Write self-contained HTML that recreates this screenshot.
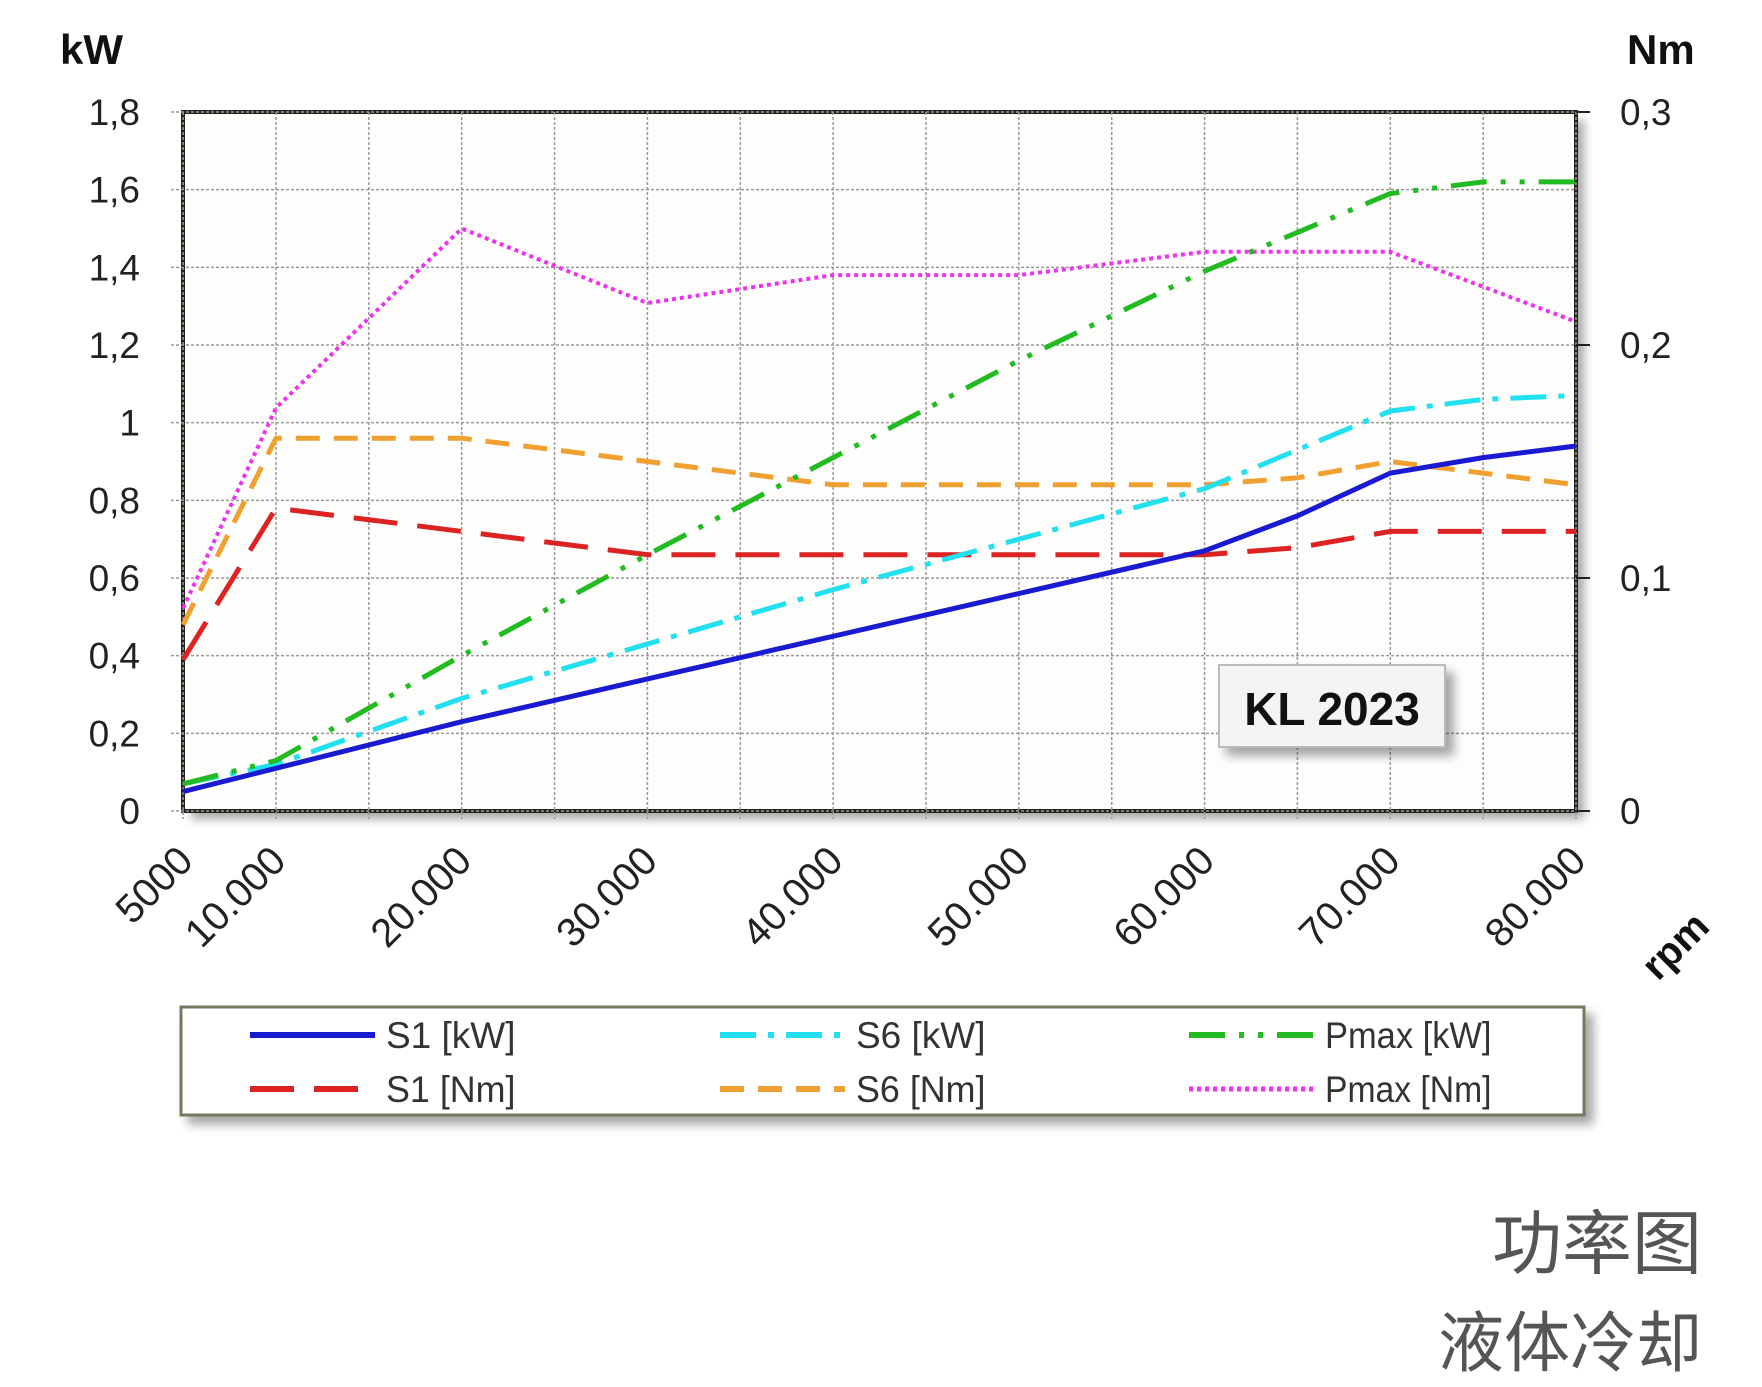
<!DOCTYPE html>
<html><head><meta charset="utf-8"><style>
body{margin:0;background:#fff;width:1762px;height:1382px;overflow:hidden}
svg text{font-family:"Liberation Sans","Noto Sans CJK SC",sans-serif}
</style></head><body>
<svg width="1762" height="1382" viewBox="0 0 1762 1382">
<defs>
<filter id="sh" x="-5%" y="-5%" width="115%" height="125%"><feDropShadow dx="8" dy="8" stdDeviation="5" flood-color="#000" flood-opacity="0.35"/></filter>
</defs>
<g id="frame"></g>
<g id="grid"></g>
<g id="series"></g>
<g id="labels"></g>
<g>
<rect x="1219" y="665" width="226" height="82" fill="#f4f4f4" stroke="#bbb" stroke-width="2" filter="url(#sh)"/>
<text x="1332" y="725" text-anchor="middle" font-size="46" font-weight="bold" fill="#111">KL 2023</text>
</g>
<g>
<rect x="181" y="1007" width="1403" height="108" fill="#fff" stroke="#777760" stroke-width="3" filter="url(#sh)"/>
<g id="legend-items"></g>
</g>
<text x="1702" y="1268" text-anchor="end" font-size="70" fill="#555">功率图</text>
<text x="1702" y="1366" text-anchor="end" font-size="66" fill="#555">液体冷却</text>
</svg>
<script>
const rpm=[5000,10000,20000,30000,40000,50000,60000,65000,70000,75000,80000];
const s1kw=[0.05,0.11,0.23,0.34,0.45,0.56,0.67,0.76,0.87,0.91,0.94];
const s6kw=[0.07,0.12,0.29,0.43,0.57,0.70,0.83,0.93,1.03,1.06,1.07];
const pmaxkw=[0.07,0.13,0.40,0.66,0.91,1.16,1.39,1.49,1.59,1.62,1.62];
const s1nm=[0.065,0.13,0.12,0.11,0.11,0.11,0.11,0.113,0.12,0.12,0.12];
const s6nm=[0.08,0.16,0.16,0.15,0.14,0.14,0.14,0.143,0.15,0.145,0.14];
const pmaxnm=[0.087,0.173,0.25,0.218,0.23,0.23,0.24,0.24,0.24,0.225,0.21];
const kwTicks=["0","0,2","0,4","0,6","0,8","1","1,2","1,4","1,6","1,8"];
const nmTicks=["0","0,1","0,2","0,3"];
const xTicks=[5000,10000,20000,30000,40000,50000,60000,70000,80000];
const xTickLabels=["5000","10.000","20.000","30.000","40.000","50.000","60.000","70.000","80.000"];
const L=183,R=1576,T=112,B=811;
const NS="http://www.w3.org/2000/svg";
function x(v){return 276+(v-10000)*(R-276)/70000;}
function yk(v){return B-v*(B-T)/1.8;}
function yn(v){return B-v*(B-T)/0.3;}
function mk(tag,attrs,parent){const e=document.createElementNS(NS,tag);for(const k in attrs)e.setAttribute(k,attrs[k]);parent.appendChild(e);return e;}
const frame=document.getElementById('frame'),grid=document.getElementById('grid'),ser=document.getElementById('series'),lab=document.getElementById('labels');
const bg=mk('rect',{x:L,y:T,width:R-L,height:B-T,fill:'#fdfdfb',filter:'url(#sh)'},frame);


for(let v=5000;v<=80000;v+=5000){const g=mk('line',{x1:x(v),x2:x(v),y1:T,y2:B+8,stroke:'#999',"stroke-width":1.5,"stroke-dasharray":"3 2"},grid);

}
kwTicks.forEach((t,i)=>{const v=i*0.2;const g=mk('line',{x1:L-12,x2:R,y1:yk(v),y2:yk(v),stroke:'#999',"stroke-width":1.5,"stroke-dasharray":"3 2"},grid);


const tx=mk('text',{x:140,y:yk(v)+13,"text-anchor":"end","font-size":37,fill:'#222'},lab);tx.textContent=t;

});
nmTicks.forEach((t,i)=>{const v=i*0.1;mk('line',{x1:R,x2:R+14,y1:yn(v),y2:yn(v),stroke:'#222',"stroke-width":2},grid);
const tx=mk('text',{x:1620,y:yn(v)+13,"font-size":37,fill:'#222'},lab);tx.textContent=t;

});
const bd=mk('rect',{x:L,y:T,width:R-L,height:B-T,fill:'none',stroke:'#22221a',"stroke-width":4},frame);


xTicks.forEach((v,i)=>{const tx=mk('text',{x:0,y:0,"text-anchor":"end","font-size":40,fill:'#222',transform:`translate(${x(v)+12},${B+52}) rotate(-45)`},lab);tx.textContent=xTickLabels[i];

});
const styles=[
{d:s1kw,f:yk,c:'#1a1ad0',w:5,da:'',n:'S1 [kW]'},
{d:s6kw,f:yk,c:'#22e0f0',w:5,da:'36 12 6 12',n:'S6 [kW]'},
{d:pmaxkw,f:yk,c:'#22bb22',w:5,da:'36 14 5 14 5 14',n:'Pmax [kW]'},
{d:s1nm,f:yn,c:'#dd2222',w:5,da:'44 20',n:'S1 [Nm]'},
{d:s6nm,f:yn,c:'#f0a030',w:5,da:'24 14',n:'S6 [Nm]'},
{d:pmaxnm,f:yn,c:'#ee33ee',w:4,da:'4 4',n:'Pmax [Nm]'}];
const names=['s1-kw-line','s6-kw-line','pmax-kw-line','s1-nm-line','s6-nm-line','pmax-nm-line'];
const order=[3,4,5,1,2,0];
order.forEach(i=>{const s=styles[i];const pts=s.d.map((v,j)=>x(rpm[j])+','+s.f(v)).join(' ');
const p=mk('polyline',{points:pts,fill:'none',stroke:s.c,"stroke-width":s.w,"stroke-dasharray":s.da,"stroke-linejoin":"round"},ser);

});
const li=document.getElementById('legend-items');
const pos=[[250,1035],[720,1035],[1189,1035],[250,1089],[720,1089],[1189,1089]];
[0,1,2,3,4,5].forEach((i,k)=>{const s=styles[i];const [px,py]=pos[k];
const l=mk('line',{x1:px,x2:px+125,y1:py,y2:py,stroke:s.c,"stroke-width":s.w+1,"stroke-dasharray":s.da},li);


const t=mk('text',{x:px+136,y:py+13,"font-size":37,fill:'#333',"textLength":s.n.length*18.5,"lengthAdjust":"spacingAndGlyphs"},li);t.textContent=s.n;

});
const a=mk('text',{x:60,y:64,"font-size":42,"font-weight":"bold",fill:'#111'},lab);a.textContent='kW';


const b=mk('text',{x:1627,y:64,"font-size":42,"font-weight":"bold",fill:'#111'},lab);b.textContent='Nm';


const c=mk('text',{x:0,y:0,"font-size":40,"font-weight":"bold",fill:'#111',transform:'translate(1658,982) rotate(-45)'},lab);c.textContent='rpm';


</script>
</body></html>
